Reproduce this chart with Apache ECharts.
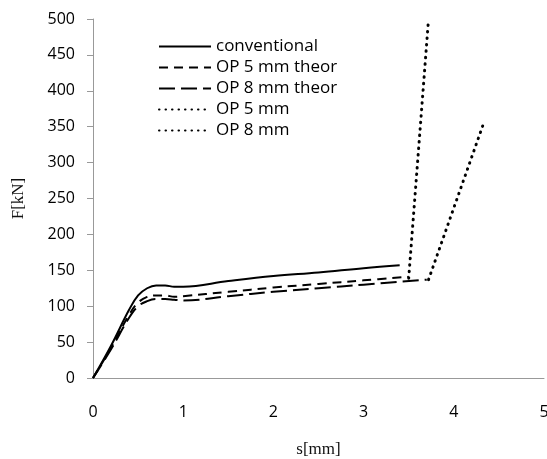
<!DOCTYPE html>
<html>
<head>
<meta charset="utf-8">
<script src="https://cdn.jsdelivr.net/npm/echarts@6/dist/echarts.min.js"></script>
<style>
  html, body { margin: 0; padding: 0; background: #fff; }
  #chart { width: 547px; height: 459px; }
</style>
</head>
<body>
<div id="chart"></div>
<script>
// displacement s [mm] and force F [kN]
const conventional = [[0, 0], [0.2, 45], [0.4, 95], [0.5, 115], [0.6, 125], [0.7, 129], [0.8, 129],
  [0.9, 127], [1.0, 127], [1.5, 135], [2.0, 142], [2.5, 147], [3.0, 153], [3.4, 157]];
const op5Theor = [[0, 0], [0.2, 42], [0.4, 88], [0.5, 105], [0.6, 113], [0.7, 115], [0.8, 115],
  [0.9, 113], [1.0, 114], [1.5, 120], [2.0, 126], [2.5, 131], [3.0, 136], [3.5, 141]];
const op8Theor = [[0, 0], [0.2, 40], [0.4, 84], [0.5, 100], [0.6, 107], [0.7, 110], [0.8, 110],
  [0.9, 109], [1.0, 108], [1.5, 114], [2.0, 120], [2.5, 125], [3.0, 130], [3.7, 137]];
const op5 = [[3.5, 139], [3.72, 500]];
const op8 = [[3.72, 137], [4.32, 351]];

const seriesNames = ['conventional', 'OP 5 mm theor', 'OP 8 mm theor', 'OP 5 mm', 'OP 8 mm'];
const xTicks = [0, 1, 2, 3, 4, 5];

const chart = echarts.init(document.getElementById('chart'), null, { renderer: 'canvas' });

const lineOf = (name, data, type, smooth) => {
  const dotted = type === 'dotted';
  return {
    name: name,
    type: 'line',
    data: data,
    smooth: smooth,
    showSymbol: false,
    symbol: 'none',
    lineStyle: {
      color: '#000',
      width: dotted ? 3 : 2,
      type: dotted ? [0.5, 6] : type,
      cap: dotted ? 'round' : 'butt'
    },
    itemStyle: { color: '#000' }
  };
};

chart.setOption({
  animation: false,
  backgroundColor: '#fff',
  grid: { left: 93, right: 3, top: 19, bottom: 81, outerBoundsMode: 'none' },
  legend: {
    orient: 'vertical',
    left: 153,
    top: 33,
    itemWidth: 52,
    itemHeight: 10,
    itemGap: 4,
    data: seriesNames,
    itemStyle: { opacity: 0 },
    textStyle: { fontFamily: 'Open Sans', fontSize: 17, color: '#000' }
  },
  xAxis: {
    type: 'value',
    min: xTicks[0],
    max: xTicks[xTicks.length - 1],
    interval: 1,
    name: 's[mm]',
    nameLocation: 'middle',
    nameGap: 63,
    nameTextStyle: { fontFamily: 'Liberation Serif', fontSize: 17, color: '#111' },
    axisLine: { lineStyle: { color: '#999' } },
    axisTick: { show: false },
    axisLabel: { fontFamily: 'Open Sans', fontSize: 16, color: '#000', margin: 26 },
    splitLine: { show: false }
  },
  yAxis: {
    type: 'value',
    min: 0,
    max: 500,
    interval: 50,
    name: 'F[kN]',
    nameLocation: 'middle',
    nameGap: 66,
    nameTextStyle: { fontFamily: 'Liberation Serif', fontSize: 17, color: '#111' },
    axisLine: { show: true, lineStyle: { color: '#999' } },
    axisTick: { show: true, length: 6, lineStyle: { color: '#999' } },
    axisLabel: { fontFamily: 'Open Sans', fontSize: 16, color: '#000', margin: 18 },
    splitLine: { show: false }
  },
  series: [
    lineOf(seriesNames[0], conventional, 'solid', 0.4),
    lineOf(seriesNames[1], op5Theor, [9, 6], 0.4),
    lineOf(seriesNames[2], op8Theor, [16, 6], 0.4),
    lineOf(seriesNames[3], op5, 'dotted', false),
    lineOf(seriesNames[4], op8, 'dotted', false)
  ]
});
</script>
</body>
</html>
